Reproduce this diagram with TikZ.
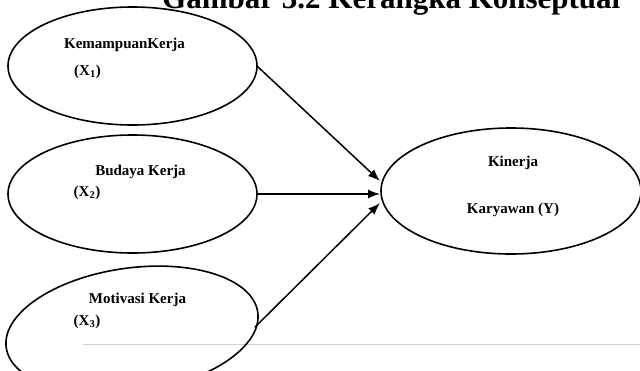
\documentclass[tikz,border=0pt]{standalone}
\usepackage{fontspec}
\setmainfont{Liberation Serif}
\usetikzlibrary{arrows.meta,positioning,shapes.geometric}

\begin{document}
\begin{tikzpicture}[x=1pt, y=-1pt]
    % Styles
    \tikzstyle{latent} = [ellipse, draw, line width=1.6pt, inner sep=0pt, outer sep=0pt, minimum width=249pt, minimum height=118pt]
    \tikzstyle{txt} = [inner sep=0pt, font=\fontsize{15}{18}\selectfont\bfseries]
    \tikzstyle{arrow} = [line width=1.5pt, -{Latex[length=12pt,width=9pt]}]

    \useasboundingbox (0,0) rectangle (640,370);

    % Title (cut at the top)
    \node[anchor=base west, inner sep=0pt, font=\fontsize{31}{36}\selectfont\bfseries] (title) at (162,8) {Gambar 3.2 Kerangka Konseptual};

    % Grey rule
    \draw[line width=1.5pt, color=black!18] (83,344.5) -- (640,344.5);

    % Nodes - independent variables
    \node[latent] (x1) at (132.5,66) {};
    \node[latent, below=10pt of x1] (x2) {};
    \node[latent, rotate=8, minimum width=254pt, minimum height=124pt] (x3) at (132,330) {};

    % Node - dependent variable
    \node[latent, minimum width=260pt, minimum height=126pt] (y) at (511,191) {};

    % Texts
    \node[txt] (x1name) at (124.5,45) {KemampuanKerja};
    \node[txt] (x1code) at (87.5,72) {(X\textsubscript{1})};
    \node[txt] (x2name) at (140.5,172) {Budaya Kerja};
    \node[txt] (x2code) at (87,193) {(X\textsubscript{2})};
    \node[txt] (x3name) at (137.5,300) {Motivasi Kerja};
    \node[txt] (x3code) at (87,322) {(X\textsubscript{3})};
    \node[txt] (yname) at (513,163) {Kinerja};
    \node[txt] (ycode) at (513,210) {Karyawan (Y)};

    % Arrows into Y
    \coordinate (in1) at ([xshift=-1pt,yshift=10pt]y.west);
    \coordinate (in2) at ([xshift=-1pt,yshift=-3pt]y.west);
    \coordinate (in3) at ([xshift=-1pt,yshift=-12pt]y.west);
    \draw[arrow] (x1.east) -- (in1);
    \draw[arrow] (x2.east) -- (in2);
    \draw[arrow] ([xshift=-3pt,yshift=-15pt]x3.east) -- (in3);

\end{tikzpicture}
\end{document}
